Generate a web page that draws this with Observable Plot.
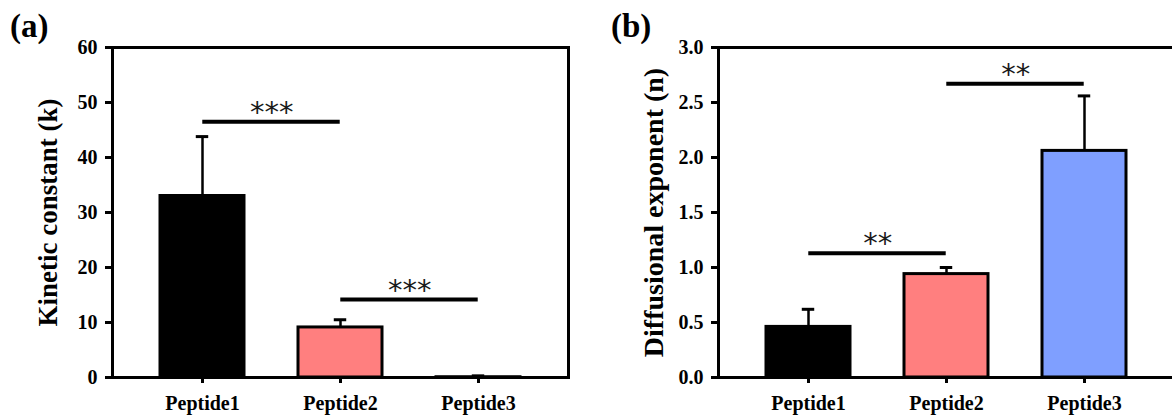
<!DOCTYPE html>
<html>
<head>
<meta charset="utf-8">
<script src="https://cdn.jsdelivr.net/npm/d3@7"></script>
<script src="https://cdn.jsdelivr.net/npm/@observablehq/plot@0.6"></script>
<style>
  html, body { margin: 0; padding: 0; background: #fff; }
  #wrap { position: relative; width: 1172px; height: 419px; overflow: hidden; display: flex; background:#fff; }
  .panel { position: relative; flex: none; }
  .plabel { position: absolute; top: 10px; font: bold 33px/1 "Liberation Serif", serif; color: #000; }
</style>
</head>
<body>
<div id="wrap">
  <div class="panel" id="pa"><div class="plabel" style="left:10px">(a)</div></div>
  <div class="panel" id="pb"><div class="plabel" style="left:5px">(b)</div></div>
</div>
<script>
// ---- data ----
const peptides = ["Peptide1", "Peptide2", "Peptide3"];
const barColors = ["#000000", "#FF7F7F", "#7F9FFF"];

// (a) Kinetic constant (k)
const kMean = [33.0, 9.1, 0.05];
const kErr = [10.8, 1.4, 0.25];
const kTicks = [0, 10, 20, 30, 40, 50, 60];
const kLabel = "Kinetic constant (k)";
const kSigFrom = ["Peptide1", "Peptide2"];
const kSigTo = ["Peptide2", "Peptide3"];
const kSigY = [46.5, 14.2];
const kSigText = ["***", "***"];

// (b) Diffusional exponent (n)
const nMean = [0.46, 0.94, 2.06];
const nErr = [0.16, 0.06, 0.50];
const nTicks = [0.0, 0.5, 1.0, 1.5, 2.0, 2.5, 3.0];
const nLabel = "Diffusional exponent (n)";
const nSigFrom = ["Peptide1", "Peptide2"];
const nSigTo = ["Peptide2", "Peptide3"];
const nSigY = [1.13, 2.67];
const nSigText = ["**", "**"];

function panel({means, errs, ticks, fmt, label, labelSize, sigFrom, sigTo, sigY, sigText, width, plotRight}) {
  const marginLeft = 112, marginTop = 47, marginBottom = 42, height = 419;
  const xOpts = {type: "band", domain: peptides, paddingInner: 0.39, paddingOuter: 0.34, align: 0.5};
  const xs = Plot.scale({x: {...xOpts, range: [marginLeft, plotRight]}});
  const bw = xs.bandwidth, step = xs.step;
  const data = peptides.map((p, i) => ({p, v: means[i], e: errs[i], c: barColors[i]}));
  const sig = sigFrom.map((f, i) => ({from: f, to: sigTo[i], y: sigY[i], t: sigText[i]}));
  return Plot.plot({
    width, height, marginLeft, marginTop, marginBottom, marginRight: width - plotRight,
    style: {fontFamily: "'Liberation Serif', serif", fontWeight: "bold", fontSize: "20px", color: "#000", background: "transparent", overflow: "visible"},
    x: xOpts,
    y: {domain: [ticks[0], ticks[ticks.length - 1]]},
    color: {type: "identity"},
    marks: [
      Plot.barY(data, {x: "p", y: "v", fill: "c", stroke: "#000", strokeWidth: 3}),
      Plot.ruleX(data, {x: "p", y1: "v", y2: d => d.v + d.e, stroke: "#000", strokeWidth: 2.5}),
      Plot.tickY(data, {x: "p", y: d => d.v + d.e, stroke: "#000", strokeWidth: 3, insetLeft: bw / 2 - 6.5, insetRight: bw / 2 - 6.5}),
      Plot.ruleY(sig, {x1: "from", x2: "to", y: "y", stroke: "#000", strokeWidth: 4, insetLeft: bw / 2, insetRight: bw / 2}),
      Plot.text(sig, {x: "from", y: "y", text: "t", dx: step / 2, dy: -9, fontFamily: "'DejaVu Sans', sans-serif", fontWeight: "normal", fontSize: 29, fill: "#1a1a1a"}),
      Plot.frame({stroke: "#000", strokeWidth: 3}),
      Plot.axisY({ticks, tickFormat: fmt, tickSize: 7, tickPadding: 8, strokeWidth: 3, label: null, fontSize: 20}),
      Plot.axisX({tickSize: 6, tickPadding: 12, strokeWidth: 3, label: null, fontSize: 20}),
      Plot.text([label], {text: d => d, frameAnchor: "left", textAnchor: "middle", lineAnchor: "middle", rotate: -90, dx: -64, fontSize: labelSize, fontWeight: "bold"})
    ]
  });
}

document.getElementById("pa").prepend(panel({
  means: kMean, errs: kErr, ticks: kTicks, fmt: d => String(d), label: kLabel, labelSize: 27,
  sigFrom: kSigFrom, sigTo: kSigTo, sigY: kSigY, sigText: kSigText, width: 606, plotRight: 568
}));
document.getElementById("pb").prepend(panel({
  means: nMean, errs: nErr, ticks: nTicks, fmt: d3.format(".1f"), label: nLabel, labelSize: 28,
  sigFrom: nSigFrom, sigTo: nSigTo, sigY: nSigY, sigText: nSigText, width: 586, plotRight: 568
}));
</script>
</body>
</html>
